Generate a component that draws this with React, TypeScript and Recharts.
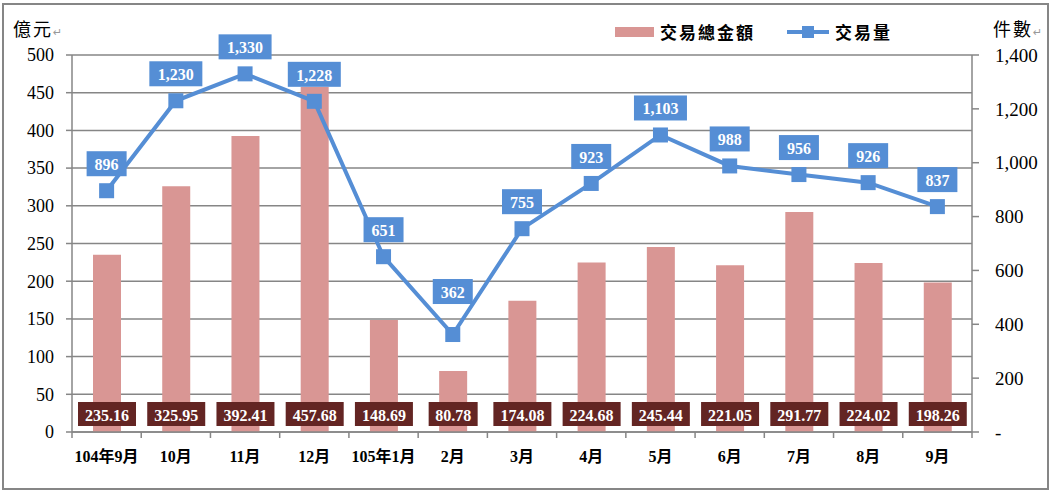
import React from 'react';
import { ComposedChart, Bar, Line, XAxis, YAxis, CartesianGrid, LabelList } from 'recharts';

const categories = ['104年9月', '10月', '11月', '12月', '105年1月', '2月', '3月', '4月', '5月', '6月', '7月', '8月', '9月'];
const amounts = [235.16, 325.95, 392.41, 457.68, 148.69, 80.78, 174.08, 224.68, 245.44, 221.05, 291.77, 224.02, 198.26];
const counts = [896, 1230, 1330, 1228, 651, 362, 755, 923, 1103, 988, 956, 926, 837];
const leftTicks = [0, 50, 100, 150, 200, 250, 300, 350, 400, 450, 500];
const rightTicks = [0, 200, 400, 600, 800, 1000, 1200, 1400];
const seriesNames = ['交易總金額', '交易量'];
const unitLeft = '億元';
const unitRight = '件數';

const data = categories.map((c, i) => ({ name: c, amount: amounts[i], count: counts[i] }));

const SERIF = '"Liberation Serif", "Times New Roman", "Noto Sans CJK TC", serif';
const GRID = '#868686';
const BAR = '#D99694';
const LINE = '#558ED5';
const BAR_LABEL = '#632523';

const W = 1052;
const H = 492;
const LEFT_W = 72;
const RIGHT_W = 80;
const TOP = 55;
const X_H = 60;
const PLOT_W = W - LEFT_W - RIGHT_W;
const BAND = PLOT_W / categories.length;

// the label of the lowest point was dragged further up in the original
const labelLift = (index: number) => (index === 5 ? 43 : 27);

const textWidth = (s: string) => {
  let w = 0;
  for (const ch of s) {
    if (ch === ',' || ch === '.') w += 4;
    else w += 9;
  }
  return w;
};

const XTick = (props: any) => {
  const { x, y, payload, index } = props;
  const left = x - BAND / 2;
  return (
    <g>
      <line x1={left} y1={y} x2={left} y2={y + 6} stroke={GRID} strokeWidth={1.5} />
      {index === categories.length - 1 && (
        <line x1={x + BAND / 2} y1={y} x2={x + BAND / 2} y2={y + 6} stroke={GRID} strokeWidth={1.5} />
      )}
      <text
        x={x}
        y={y + 24}
        textAnchor="middle"
        dominantBaseline="central"
        fontFamily={SERIF}
        fontSize={16}
        fontWeight="bold"
        fill="#000"
      >
        {payload.value}
      </text>
    </g>
  );
};

const LineLabel = (props: any) => {
  const { x, y, value, index } = props;
  const s = Number(value).toLocaleString('en-US');
  const w = textWidth(s) + 13;
  const h = 25;
  const cy = y - labelLift(index);
  return (
    <g>
      <rect x={x - w / 2} y={cy - h / 2} width={w} height={h} fill={LINE} />
      <text
        x={x}
        y={cy + 1}
        textAnchor="middle"
        dominantBaseline="central"
        fontFamily={SERIF}
        fontSize={16}
        fontWeight="bold"
        fill="#fff"
      >
        {s}
      </text>
    </g>
  );
};

const BarLabel = (props: any) => {
  const { x, y, width, height, value } = props;
  const s = Number(value).toFixed(2);
  const w = textWidth(s) + 9;
  const h = 24;
  const cx = x + width / 2;
  const cy = y + height - 18;
  return (
    <g>
      <rect x={cx - w / 2} y={cy - h / 2} width={w} height={h} fill={BAR_LABEL} />
      <text
        x={cx}
        y={cy + 1}
        textAnchor="middle"
        dominantBaseline="central"
        fontFamily={SERIF}
        fontSize={16}
        fontWeight="bold"
        fill="#fff"
      >
        {s}
      </text>
    </g>
  );
};

const SquareDot = (props: any) => {
  const { cx, cy, index } = props;
  if (cx == null || cy == null) return <g key={index} />;
  return <rect key={index} x={cx - 7.5} y={cy - 7.5} width={15} height={15} fill={LINE} />;
};

const LegendBox = () => (
  <div
    style={{
      position: 'absolute',
      left: 615,
      top: 19,
      display: 'flex',
      alignItems: 'center',
      fontFamily: SERIF,
      fontWeight: 'bold',
      fontSize: 17,
      color: '#000',
      whiteSpace: 'nowrap',
    }}
  >
    <span style={{ display: 'inline-block', width: 39, height: 10, background: BAR, marginRight: 6 }} />
    <span style={{ marginRight: 32, letterSpacing: 2 }}>{seriesNames[0]}</span>
    <svg width={42} height={14} style={{ marginRight: 6 }}>
      <line x1={0} y1={7} x2={42} y2={7} stroke={LINE} strokeWidth={4} />
      <rect x={15} y={1} width={12} height={12} fill={LINE} />
    </svg>
    <span style={{ letterSpacing: 2 }}>{seriesNames[1]}</span>
  </div>
);

const Pilcrow = () => <span style={{ color: '#999', fontSize: 11, fontFamily: 'DejaVu Sans' }}>↵</span>;

export default function App() {
  return (
    <div style={{ position: 'absolute', left: 0, top: 0, width: W, height: H, background: '#fff' }}>
      <div
        style={{
          position: 'absolute',
          left: 2,
          top: 3,
          width: 1047,
          height: 487,
          border: '2.5px solid #868686',
          boxSizing: 'border-box',
        }}
      />
      <div style={{ position: 'absolute', left: 13, top: 15, fontFamily: SERIF, fontSize: 18, color: '#000', letterSpacing: 2 }}>
        {unitLeft}
        <Pilcrow />
      </div>
      <div style={{ position: 'absolute', left: 993, top: 15, fontFamily: SERIF, fontSize: 18, color: '#000', letterSpacing: 2 }}>
        {unitRight}
        <Pilcrow />
      </div>
      <LegendBox />
      <div style={{ position: 'absolute', left: 0, top: 0 }}>
        <ComposedChart width={W} height={H} data={data} margin={{ top: TOP, right: 0, bottom: 0, left: 0 }}>
          <CartesianGrid yAxisId="left" vertical={false} stroke={GRID} strokeWidth={1.5} />
          <XAxis
            dataKey="name"
            height={X_H}
            stroke={GRID}
            strokeWidth={1.5}
            tickLine={false}
            tickSize={0}
            tickMargin={0}
            interval={0}
            tick={<XTick />}
          />
          <YAxis
            yAxisId="left"
            width={LEFT_W}
            domain={[0, 500]}
            ticks={leftTicks}
            interval={0}
            stroke={GRID}
            strokeWidth={1.5}
            tickSize={6}
            tickMargin={12}
            tick={{ fill: '#000', fontSize: 18, fontFamily: SERIF }}
          />
          <YAxis
            yAxisId="right"
            orientation="right"
            width={RIGHT_W}
            domain={[0, 1400]}
            ticks={rightTicks}
            interval={0}
            stroke={GRID}
            strokeWidth={1.5}
            tickSize={7}
            tickMargin={16}
            tickFormatter={(v: number) => (v === 0 ? '-' : v.toLocaleString('en-US'))}
            tick={{ fill: '#000', fontSize: 19, fontFamily: SERIF, textAnchor: 'start' }}
          />
          <Bar yAxisId="left" dataKey="amount" name={seriesNames[0]} fill={BAR} barSize={28} isAnimationActive={false}>
            <LabelList dataKey="amount" content={<BarLabel />} />
          </Bar>
          <Line
            yAxisId="right"
            dataKey="count"
            name={seriesNames[1]}
            stroke={LINE}
            strokeWidth={4}
            dot={<SquareDot />}
            activeDot={false}
            isAnimationActive={false}
          >
            <LabelList dataKey="count" content={<LineLabel />} />
          </Line>
        </ComposedChart>
      </div>
    </div>
  );
}
